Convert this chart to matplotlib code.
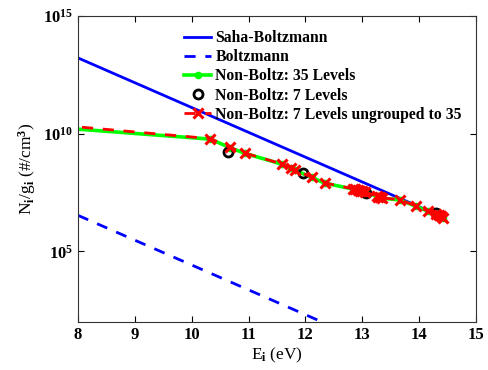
import numpy as np
import matplotlib
matplotlib.use("Agg")
import matplotlib.pyplot as plt
from matplotlib.ticker import FixedLocator, LogFormatterSciNotation

plt.rcParams['font.family'] = 'Liberation Serif'
plt.rcParams['font.weight'] = 'bold'
plt.rcParams['mathtext.fontset'] = 'custom'
plt.rcParams['mathtext.rm'] = 'Liberation Serif:bold'
plt.rcParams['mathtext.it'] = 'Liberation Serif:bold'
plt.rcParams['mathtext.bf'] = 'Liberation Serif:bold'
plt.rcParams['mathtext.default'] = 'rm'

# Saha-Boltzmann and Boltzmann (straight lines on log scale)
saha_E = [8.0, 14.31]
saha_N = [1.66e13, 3.7e6]
boltz_E = [8.0, 14.4]
boltz_N = [3.4e6, 6.0e-1]

# Non-Boltz: 35 levels (first level lies off the left of the plot)
e35 = [0.0, 10.33, 10.67, 10.93, 11.58, 11.75, 11.81, 12.11, 12.34,
       12.83, 12.88, 12.92, 12.96, 13.00, 13.04, 13.25, 13.28, 13.31,
       13.34, 13.66, 13.95, 14.16, 14.30, 14.34, 14.38, 14.42]
log35 = [11.65, 9.77, 9.41, 9.17, 8.71, 8.54, 8.46, 8.14, 7.90,
         7.65, 7.62, 7.59, 7.57, 7.54, 7.51, 7.35, 7.32, 7.29,
         7.26, 7.19, 6.91, 6.70, 6.56, 6.52, 6.48, 6.42]
n35 = [10 ** v for v in log35]

# Non-Boltz: 7 levels ungrouped to 35
logung = [12.01, 9.79, 9.42, 9.18, 8.72, 8.55, 8.47, 8.15, 7.91,
          7.66, 7.63, 7.60, 7.58, 7.55, 7.52, 7.36, 7.33, 7.30,
          7.27, 7.20, 6.92, 6.71, 6.57, 6.53, 6.49, 6.43]
nung = [10 ** v for v in logung]

# Non-Boltz: 7 levels
e7 = [10.63, 11.95, 13.06, 14.29]
n7 = [1.66e9, 2.1e8, 2.9e7, 4.1e6]

fig = plt.figure(figsize=(4.89, 3.70), dpi=100)
ax = fig.add_axes([0.1595, 0.1297, 0.814, 0.827])

ax.semilogy(saha_E, saha_N, '-', color='#0000ff', lw=2.0, label='Saha-Boltzmann')
ax.semilogy(boltz_E, boltz_N, '--', color='#0000ff', lw=2.0, dashes=(4, 3.5),
            label='Boltzmann')
ax.semilogy(e35, n35, '-', color='#00ff00', lw=2.6, marker='o', ms=4.5,
            mec='#00ff00', mfc='#00ff00', label='Non-Boltz: 35 Levels')
ax.semilogy(e7, n7, 'o', color='black', ms=6.5, mew=2, mfc='none',
            label='Non-Boltz: 7 Levels')
ax.semilogy(e35, nung, '--', color='#ff0000', lw=2.0, dashes=(4, 3.5),
            marker='x', ms=7, mew=2.2, label='Non-Boltz: 7 Levels ungrouped to 35')

ax.set_xlim(8, 15)
ax.set_ylim(1e2, 1e15)
ax.set_xticks(range(8, 16))
ax.yaxis.set_major_locator(FixedLocator([1e5, 1e10, 1e15]))
ax.yaxis.set_major_formatter(LogFormatterSciNotation())
ax.yaxis.set_minor_locator(FixedLocator([]))
ax.tick_params(direction='in', top=True, right=True, labelsize=12, length=4)
for s in ax.spines.values():
    s.set_color('#333333')

ax.set_xlabel('E$_i$ (eV)', fontsize=12.5, labelpad=2)
ax.set_ylabel('N$_i$/g$_i$ (#/cm$^3$)', fontsize=12.5)

ax.legend(loc='upper right', frameon=False, fontsize=11.3, handlelength=1.75,
          handletextpad=0.25, labelspacing=0.2, borderaxespad=0.5)

fig.savefig('out.png', dpi=100)
